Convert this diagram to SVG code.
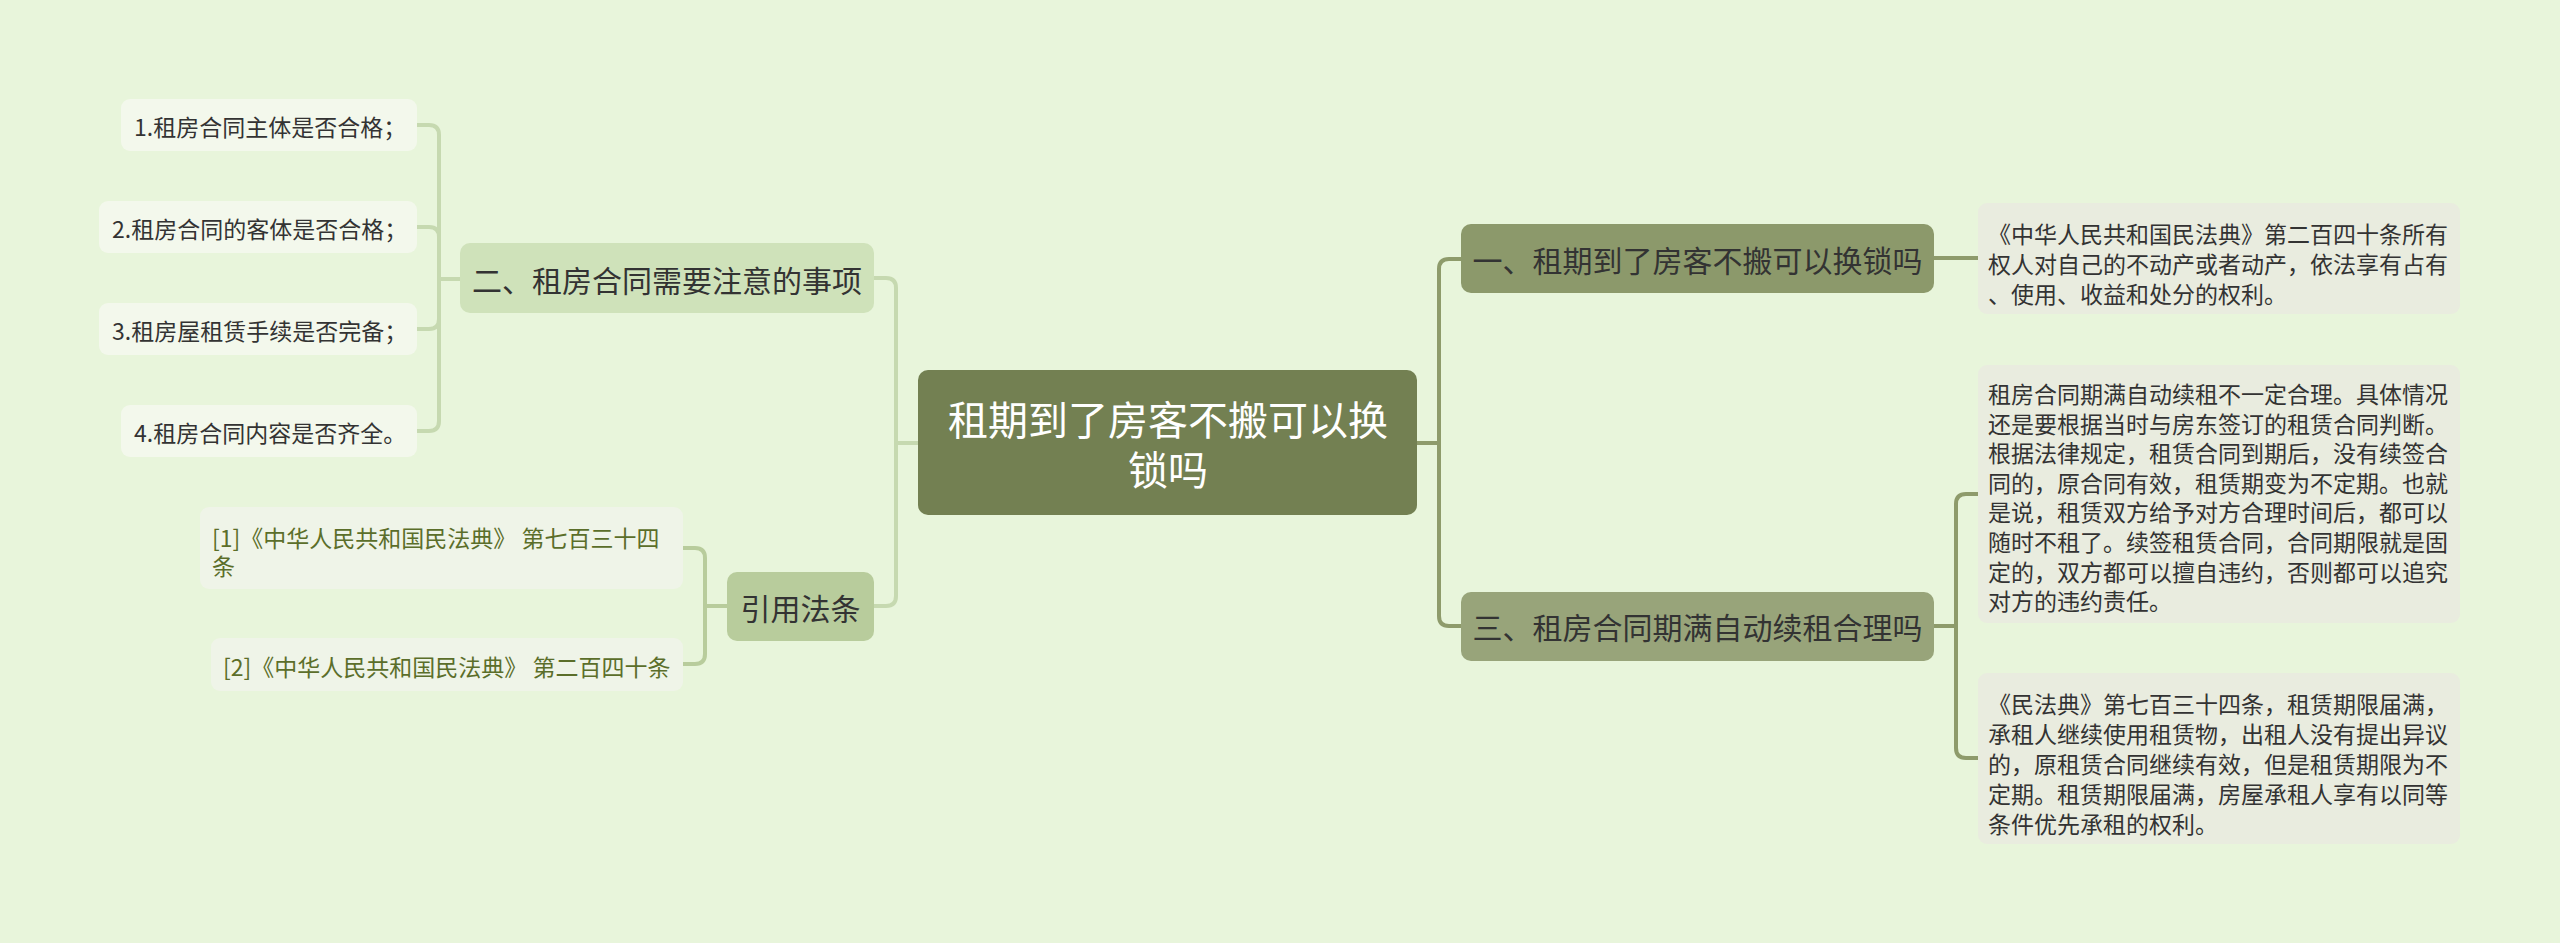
<svg xmlns="http://www.w3.org/2000/svg" width="2560" height="943" viewBox="0 0 2560 943">
<style>
text{font-family:"Noto Sans CJK SC","Noto Sans",sans-serif;dominant-baseline:central}
.leaf rect{fill:#f3f8ec}
.leaf text{font-size:23px;fill:#333}
.ref rect{fill:#eff4e8}
.ref text{font-size:23px;fill:#5b6e2a}
.note rect{fill:#e9ecdf}
.note text{font-size:23px;fill:#333}
.sub text{font-size:30px;fill:#333;text-anchor:middle}
.conL{fill:none;stroke:#c6d9b0;stroke-width:4}
.conR{fill:none;stroke:#8e9b6b;stroke-width:4}
</style>
<rect width="2560" height="943" fill="#e8f5db"/>
<g id="connectors">
<path class="conL" d="M918,443H896M874,278H886Q896,278 896,288V596Q896,606 886,606H874"/>
<path class="conL" d="M417,125H429Q439,125 439,135V421Q439,431 429,431H417M417,227H429Q439,227 439,237M417,329H429Q439,329 439,319M439,279H460"/>
<path class="conL" style="stroke:#b8cc9c" d="M683,548H695Q705,548 705,558V654Q705,664 695,664H683M705,606H727"/>
<path class="conR" d="M1417,443H1439M1461,259H1449Q1439,259 1439,269V616Q1439,626 1449,626H1461"/>
<path class="conR" d="M1934,258H1978"/>
<path class="conR" d="M1934,626H1956M1978,494H1966Q1956,494 1956,504V748Q1956,758 1966,758H1978"/>
</g>
<g id="root">
<rect x="918" y="370" width="499" height="145" rx="10" fill="#738052"/>
<text x="1168" y="418" font-size="40" fill="#fff" text-anchor="middle">租期到了房客不搬可以换</text>
<text x="1168" y="468" font-size="40" fill="#fff" text-anchor="middle">锁吗</text>
</g>
<g id="n2" class="sub">
<rect x="460" y="243" width="414" height="70" rx="10" fill="#cfe2ba"/>
<text x="667" y="279">二、租房合同需要注意的事项</text>
</g>
<g id="leaf1" class="leaf"><rect x="121" y="99" width="296" height="52" rx="9"/><text x="134" y="126">1.租房合同主体是否合格；</text></g>
<g id="leaf2" class="leaf"><rect x="99" y="201" width="318" height="52" rx="9"/><text x="112" y="228">2.租房合同的客体是否合格；</text></g>
<g id="leaf3" class="leaf"><rect x="99" y="303" width="318" height="52" rx="9"/><text x="112" y="330">3.租房屋租赁手续是否完备；</text></g>
<g id="leaf4" class="leaf"><rect x="121" y="405" width="296" height="52" rx="9"/><text x="134" y="432">4.租房合同内容是否齐全。</text></g>
<g id="n4" class="sub">
<rect x="727" y="572" width="147" height="69" rx="10" fill="#b8cc9c"/>
<text x="800.5" y="607">引用法条</text>
</g>
<g id="ref1" class="ref"><rect x="200" y="507" width="483" height="82" rx="9"/><text x="212" y="537">[1]《中华人民共和国民法典》 第七百三十四</text><text x="212" y="565">条</text></g>
<g id="ref2" class="ref"><rect x="211" y="638" width="472" height="53" rx="9"/><text x="223" y="666">[2]《中华人民共和国民法典》 第二百四十条</text></g>
<g id="n1" class="sub">
<rect x="1461" y="224" width="473" height="69" rx="10" fill="#8c996b"/>
<text x="1697.5" y="259">一、租期到了房客不搬可以换锁吗</text>
</g>
<g id="note1" class="note"><rect x="1978" y="203" width="482" height="111" rx="9"/>
<text x="1988" y="233">《中华人民共和国民法典》第二百四十条所有</text>
<text x="1988" y="263">权人对自己的不动产或者动产，依法享有占有</text>
<text x="1988" y="293">、使用、收益和处分的权利。</text></g>
<g id="n3" class="sub">
<rect x="1461" y="592" width="473" height="69" rx="10" fill="#98a47a"/>
<text x="1697.5" y="626">三、租房合同期满自动续租合理吗</text>
</g>
<g id="note2" class="note"><rect x="1978" y="365" width="482" height="258" rx="9"/>
<text x="1988" y="393">租房合同期满自动续租不一定合理。具体情况</text>
<text x="1988" y="422.6">还是要根据当时与房东签订的租赁合同判断。</text>
<text x="1988" y="452.2">根据法律规定，租赁合同到期后，没有续签合</text>
<text x="1988" y="481.8">同的，原合同有效，租赁期变为不定期。也就</text>
<text x="1988" y="511.4">是说，租赁双方给予对方合理时间后，都可以</text>
<text x="1988" y="541">随时不租了。续签租赁合同，合同期限就是固</text>
<text x="1988" y="570.6">定的，双方都可以擅自违约，否则都可以追究</text>
<text x="1988" y="600.2">对方的违约责任。</text></g>
<g id="note3" class="note"><rect x="1978" y="673" width="482" height="171" rx="9"/>
<text x="1988" y="703">《民法典》第七百三十四条，租赁期限届满，</text>
<text x="1988" y="733">承租人继续使用租赁物，出租人没有提出异议</text>
<text x="1988" y="763">的，原租赁合同继续有效，但是租赁期限为不</text>
<text x="1988" y="793">定期。租赁期限届满，房屋承租人享有以同等</text>
<text x="1988" y="823">条件优先承租的权利。</text></g>
</svg>
